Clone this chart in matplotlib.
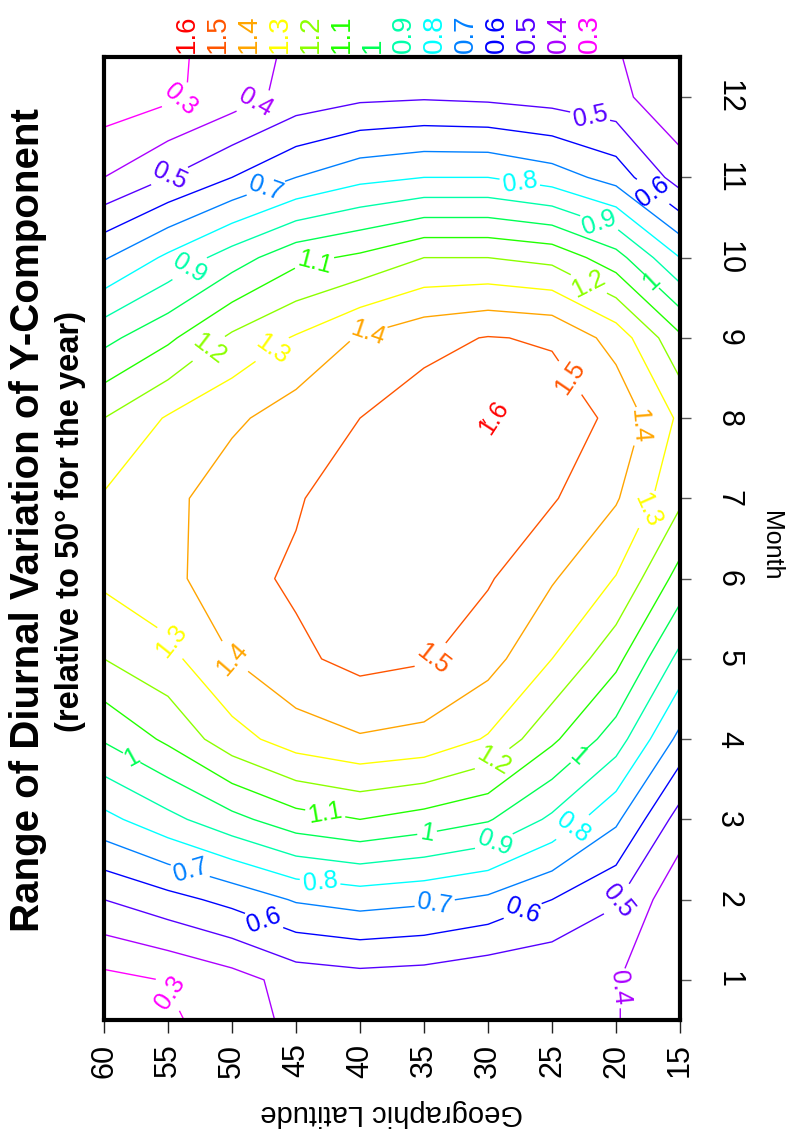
import numpy as np
import matplotlib
matplotlib.use("Agg")
import matplotlib.pyplot as plt

plt.rcParams['font.family'] = ['Liberation Sans', 'DejaVu Sans']

# grid: months (0.5 and 12.5 are the edges of the frame)
months = [0.5, 1, 2, 3, 4, 5, 6, 7, 8, 9, 10, 11, 12, 12.5]
latitudes = [15, 20, 25, 30, 35, 40, 45, 50, 55, 60]

# range of diurnal variation (relative to 50 deg, yearly mean), one row per latitude
lat15 = [0.33, 0.33, 0.32, 0.455, 0.67, 0.87, 1.06, 1.22, 1.28, 1.12, 0.80, 0.45, 0.32, 0.31]
lat20 = [0.405, 0.405, 0.51, 0.72, 0.95, 1.13, 1.295, 1.41, 1.48, 1.36, 1.04, 0.66, 0.43, 0.41]
lat25 = [0.42, 0.41, 0.60, 0.88, 1.12, 1.30, 1.41, 1.51, 1.55, 1.49, 1.17, 0.75, 0.46, 0.43]
lat30 = [0.43, 0.42, 0.68, 1.01, 1.29, 1.44, 1.51, 1.56, 1.605, 1.505, 1.20, 0.80, 0.48, 0.44]
lat35 = [0.44, 0.45, 0.72, 1.06, 1.37, 1.51, 1.57, 1.58, 1.55, 1.47, 1.20, 0.80, 0.49, 0.45]
lat40 = [0.45, 0.46, 0.74, 1.10, 1.39, 1.53, 1.56, 1.56, 1.50, 1.41, 1.12, 0.77, 0.48, 0.45]
lat45 = [0.42, 0.44, 0.71, 1.06, 1.35, 1.48, 1.515, 1.49, 1.45, 1.31, 1.07, 0.70, 0.44, 0.43]
lat50 = [0.36, 0.36, 0.63, 0.97, 1.26, 1.40, 1.47, 1.46, 1.38, 1.22, 0.95, 0.60, 0.35, 0.33]
lat55 = [0.28, 0.305, 0.565, 0.87, 1.12, 1.27, 1.37, 1.37, 1.31, 1.08, 0.82, 0.50, 0.28, 0.285]
lat60 = [0.22, 0.27, 0.50, 0.77, 1.01, 1.20, 1.32, 1.31, 1.20, 0.97, 0.69, 0.40, 0.24, 0.20]

levels = [0.3, 0.4, 0.5, 0.6, 0.7, 0.8, 0.9, 1.0, 1.1, 1.2, 1.3, 1.4, 1.5, 1.6]
level_colors = ['#FF00FF', '#AA00FF', '#5500FF', '#0000FF', '#0080FF', '#00FFFF', '#00FFAA',
                '#00FF55', '#22FF00', '#8CFF00', '#FFFF00', '#FFA500', '#FF5500', '#FF0000']
legend_labels = ['1.6', '1.5', '1.4', '1.3', '1.2', '1.1', '1', '0.9', '0.8', '0.7', '0.6', '0.5', '0.4', '0.3']

Z = np.array([lat15, lat20, lat25, lat30, lat35, lat40, lat45, lat50, lat55, lat60])

W, H = 795, 1140
fig = plt.figure(figsize=(W / 100, H / 100), dpi=100)
ax = fig.add_axes([104 / W, 120 / H, 576 / W, 963 / H])

cs = ax.contour(latitudes, months, Z.T, levels=levels, colors=level_colors, linewidths=1.0)

# where the labels sit on the picture (lat, month)
label_pos = [(53.8, 11.9), (48.1, 11.9), (54.7, 10.96), (47.3, 10.84), (53.3, 9.86),
             (43.5, 9.9), (51.7, 8.84), (46.8, 8.84), (39.2, 8.96), (22, 11.78),
             (27.5, 10.96), (17.3, 10.78), (21.25, 10.46), (22, 9.71), (17.3, 9.69),
             (23.6, 8.5), (29, 7.95), (18.1, 7.9), (17.3, 6.84), (33.75, 4.9),
             (54.8, 5.21), (50.2, 4.96), (29.5, 3.71), (23.6, 3.9), (57.7, 3.81),
             (42.7, 3.09), (34.7, 2.78), (29.6, 2.74), (23.2, 2.86), (43.1, 2.25),
             (53.3, 2.34), (34.1, 1.9), (47.4, 1.78), (27.1, 1.78), (19.5, 1.96),
             (54.1, 0.9), (20.7, 0.9)]
ax.clabel(cs, fmt=lambda v: f'{v:g}', fontsize=18, inline=True, inline_spacing=3,
          manual=label_pos)

ax.set_xlim(60, 15)
ax.set_ylim(0.5, 12.5)
ax.set_xticks(range(15, 61, 5))
ax.set_xticklabels([str(v) for v in range(15, 61, 5)], rotation=90, fontsize=22)
ax.set_yticks(range(1, 13))
ax.set_yticklabels([str(m) for m in range(1, 13)], rotation=-90, fontsize=22, va='center')
ax.yaxis.tick_right()
ax.tick_params(axis='x', direction='out', length=9, width=1, color='#222222', pad=8)
ax.tick_params(axis='y', direction='out', length=8, width=1, color='#555555', pad=16)
for s in ax.spines.values():
    s.set_linewidth(3)

fig.text(392 / W, 1 - 1113 / H, 'Geographic Latitude', rotation=180, ha='center',
         va='center', fontsize=21)
fig.text(771 / W, 1 - 546 / H, 'Month', rotation=-90, ha='center', va='center', fontsize=18)

# colour key along the top
for i, (lab, c) in enumerate(zip(legend_labels, level_colors[::-1])):
    fig.text((187 + 31 * i) / W, 1 - 53 / H, lab, rotation=90, ha='center', va='bottom',
             color=c, fontsize=20)

fig.text(28 / W, 1 - 520 / H, 'Range of Diurnal Variation of Y-Component', rotation=90,
         ha='center', va='center', fontsize=29, fontweight='bold')
fig.text(71 / W, 1 - 522 / H, '(relative to 50\u00b0 for the year)', rotation=90,
         ha='center', va='center', fontsize=23.5, fontweight='bold')

fig.savefig('out.png', dpi=100)
